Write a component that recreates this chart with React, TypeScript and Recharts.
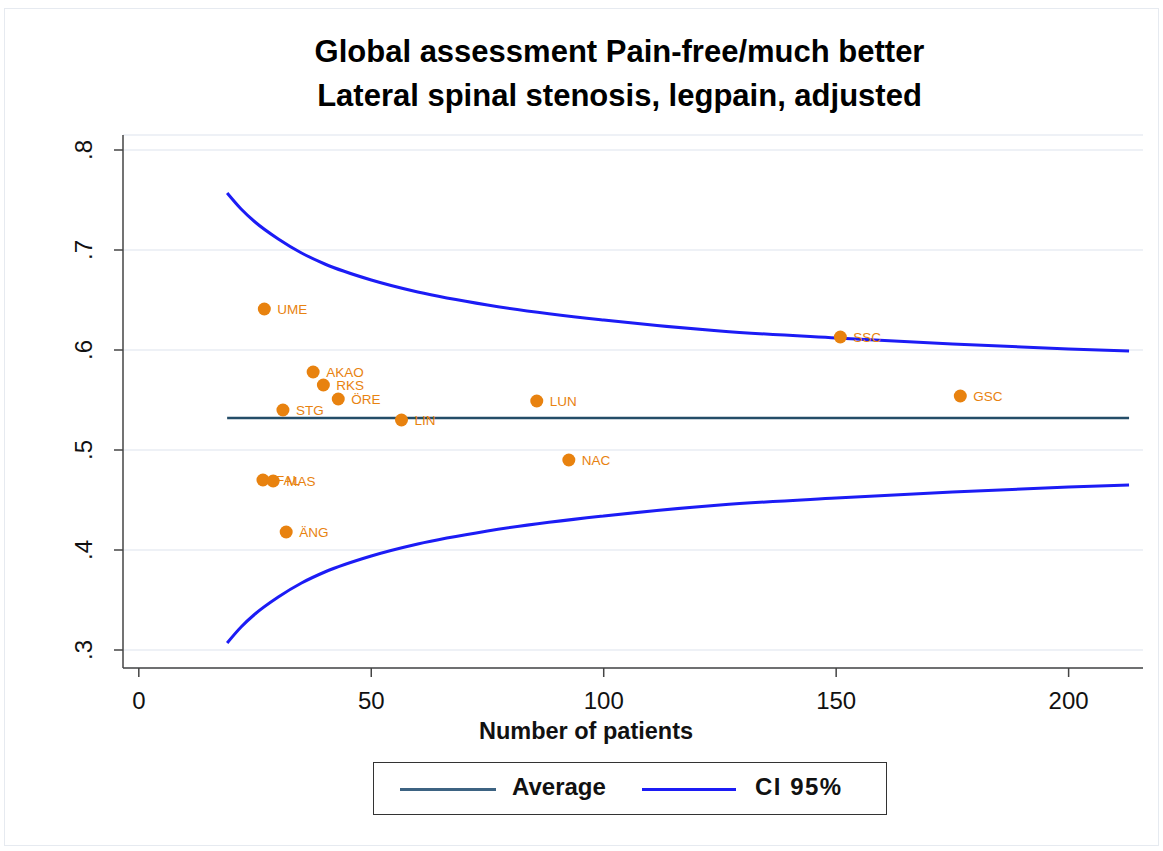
import React from "react";
import { CartesianGrid, ComposedChart, Line, Scatter, XAxis, YAxis } from "recharts";

// Hospital units: number of patients vs adjusted share pain-free/much better
const units = ["UME", "AKAO", "RKS", "ÖRE", "STG", "LIN", "LUN", "NAC", "SSC", "GSC", "FAL", "MAS", "ÄNG"];
const patients = [27, 37.5, 39.7, 42.9, 31, 56.5, 85.6, 92.5, 150.9, 176.7, 26.7, 28.9, 31.7];
const shares = [0.641, 0.578, 0.565, 0.551, 0.54, 0.53, 0.549, 0.49, 0.613, 0.554, 0.47, 0.469, 0.418];

// Average line and 95% CI funnel
const average = 0.532;
const ciN = [19, 22, 25, 30, 35, 40, 50, 60, 75, 100, 125, 150, 175, 200, 213];
const ciUpper = [0.757, 0.741, 0.728, 0.711, 0.697, 0.686, 0.67, 0.658, 0.645, 0.63, 0.619, 0.612, 0.606, 0.601, 0.599];
const ciLower = [0.307, 0.323, 0.336, 0.353, 0.367, 0.378, 0.394, 0.406, 0.419, 0.434, 0.445, 0.452, 0.458, 0.463, 0.465];

const xTicks = [0, 50, 100, 150, 200];
const yTicks = [0.3, 0.4, 0.5, 0.6, 0.7, 0.8];

const ORANGE = "#e8820f";
const BLUE = "#1c1cf5";
const TEAL = "#244d68";
const FONT = "'Liberation Sans', Arial, sans-serif";

const pointData = units.map((u, i) => ({ n: patients[i], v: shares[i], label: u }));
const avgData = [{ n: ciN[0], v: average }, { n: ciN[ciN.length - 1], v: average }];
const upperData = ciN.map((n, i) => ({ n, v: ciUpper[i] }));
const lowerData = ciN.map((n, i) => ({ n, v: ciLower[i] }));

const fmtY = (v: number) => v.toFixed(1).replace(/^0/, "");

function YTick({ x, y, payload }: any) {
  return (
    <text
      x={x - 20}
      y={y}
      transform={`rotate(-90 ${x - 20} ${y})`}
      textAnchor="middle"
      fontSize={24}
      fontFamily={FONT}
      fill="#111"
    >
      {fmtY(payload.value)}
    </text>
  );
}

function UnitDot({ cx, cy, payload }: any) {
  return (
    <g>
      <circle cx={cx} cy={cy} r={6.5} fill={ORANGE} />
      <text x={cx + 13} y={cy + 5} fontSize={13.5} fontFamily={FONT} fill={ORANGE}>
        {payload.label}
      </text>
    </g>
  );
}

export default function App() {
  return (
    <div
      style={{
        position: "absolute",
        left: 0,
        top: 0,
        width: 1163,
        height: 851,
        background: "#fff",
        fontFamily: FONT,
      }}
    >
      <div
        style={{
          position: "absolute",
          left: 4,
          top: 8,
          width: 1155,
          height: 838,
          border: "1px solid #e6eaf0",
          boxSizing: "border-box",
        }}
      />
      <div
        style={{
          position: "absolute",
          left: 0,
          width: 1163,
          top: 30,
          textAlign: "center",
          fontWeight: "bold",
          fontSize: 31,
          lineHeight: "44px",
          color: "#000",
          paddingLeft: 76,
          boxSizing: "border-box",
        }}
      >
        <div>Global assessment Pain-free/much better</div>
        <div>Lateral spinal stenosis, legpain, adjusted</div>
      </div>

      <ComposedChart
        width={1163}
        height={851}
        margin={{ top: 135, right: 20, bottom: 153, left: 63 }}
        style={{ position: "absolute", left: 0, top: 0 }}
      >
        <CartesianGrid horizontal vertical={false} stroke="#e9edf3" strokeWidth={1.5} />
        <XAxis
          type="number"
          dataKey="n"
          domain={[-3.4, 216]}
          ticks={xTicks}
          allowDataOverflow
          height={30}
          stroke="#444"
          strokeWidth={1.5}
          tickSize={9}
          tick={{ fontSize: 24, fill: "#111", fontFamily: FONT, dy: 13 }}
        />
        <YAxis
          type="number"
          dataKey="v"
          domain={[0.282, 0.815]}
          ticks={yTicks}
          allowDataOverflow
          width={60}
          stroke="#444"
          strokeWidth={1.5}
          tickSize={9}
          tick={<YTick />}
        />
        <Line data={upperData} dataKey="v" type="monotone" stroke={BLUE} strokeWidth={3} dot={false} isAnimationActive={false} />
        <Line data={lowerData} dataKey="v" type="monotone" stroke={BLUE} strokeWidth={3} dot={false} isAnimationActive={false} />
        <Line data={avgData} dataKey="v" type="linear" stroke={TEAL} strokeWidth={2.5} dot={false} isAnimationActive={false} />
        <Scatter data={pointData} dataKey="v" shape={<UnitDot />} isAnimationActive={false} />
      </ComposedChart>

      <div
        style={{
          position: "absolute",
          left: 436,
          top: 718,
          width: 300,
          textAlign: "center",
          fontWeight: "bold",
          fontSize: 23.5,
          color: "#111",
          whiteSpace: "nowrap",
        }}
      >
        Number of patients
      </div>

      <div
        style={{
          position: "absolute",
          left: 373,
          top: 762,
          width: 514,
          height: 53,
          border: "1.5px solid #333",
          boxSizing: "border-box",
        }}
      >
        <div style={{ position: "absolute", left: 26, top: 25, width: 96, height: 3, background: "#3d6382" }} />
        <div style={{ position: "absolute", left: 138, top: 10, fontWeight: "bold", fontSize: 24, color: "#111" }}>
          Average
        </div>
        <div style={{ position: "absolute", left: 268, top: 25, width: 94, height: 3, background: BLUE }} />
        <div
          style={{
            position: "absolute",
            left: 381,
            top: 10,
            fontWeight: "bold",
            fontSize: 24,
            letterSpacing: 1.5,
            color: "#111",
          }}
        >
          CI 95%
        </div>
      </div>
    </div>
  );
}
